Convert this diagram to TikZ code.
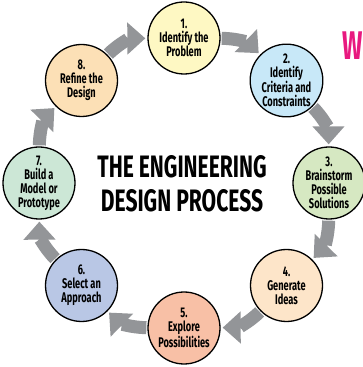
\documentclass[tikz,border=0pt]{standalone}
\usepackage{fontspec}
\setmainfont{Fira Sans}[FakeStretch=0.72]
\newfontfamily\stagefont{Fira Sans}[FakeStretch=0.66]
\newfontfamily\headfont{Fira Sans}[FakeStretch=0.68]
\newfontfamily\wfont{Fira Sans}[FakeStretch=0.6]
\usetikzlibrary{arrows.meta,backgrounds}
\definecolor{arrowgray}{HTML}{939598}
\definecolor{cA}{HTML}{FEF8C3}
\definecolor{cB}{HTML}{C8E8F8}
\definecolor{cC}{HTML}{D6E8C2}
\definecolor{cD}{HTML}{FDE5C9}
\definecolor{cE}{HTML}{F8C0A6}
\definecolor{cF}{HTML}{B9C7E5}
\definecolor{cG}{HTML}{CCE7D6}
\definecolor{cH}{HTML}{FCE0B6}
\definecolor{titlepink}{HTML}{E8197F}
\tikzset{
  stage/.style={circle, draw=black, line width=1.3pt, minimum size=72pt, inner sep=0pt, align=center,
    font=\stagefont\bfseries\fontsize{14}{14}\selectfont},
  flow/.style={draw=arrowgray, line width=13pt, -{Triangle[width=31pt,length=18pt]}, shorten <=1pt, shorten >=2pt},
  heading/.style={align=center, font=\headfont\bfseries\fontsize{31}{34}\selectfont}
}
\begin{document}
\begin{tikzpicture}[x=1pt,y=1pt]
\useasboundingbox (0,0) rectangle (363,367);
\clip (0,0) rectangle (363,367);
\node[stage, fill=cA] (s1) at (184,329) {1.\\Identify the\\Problem};
\node[stage, fill=cB] (s2) at (286.5,286.5) {2.\\Identify\\Criteria and\\Constraints};
\node[stage, fill=cC] (s3) at (329,184) {3.\\Brainstorm\\Possible\\Solutions};
\node[stage, fill=cD] (s4) at (286.5,81.5) {4.\\Generate\\Ideas};
\node[stage, fill=cE] (s5) at (184,39) {5.\\Explore\\Possibilities};
\node[stage, fill=cF] (s6) at (81.5,81.5) {6.\\Select an\\Approach};
\node[stage, fill=cG] (s7) at (39,184) {7.\\Build a\\Model or\\Prototype};
\node[stage, fill=cH] (s8) at (81.5,286.5) {8.\\Refine the\\Design};
\node[heading] (title) at (182,183) {THE ENGINEERING\\DESIGN PROCESS};
\node[anchor=west, text=titlepink, font=\wfont\bfseries\fontsize{40}{40}\selectfont, inner sep=0pt] (w) at (342,321) {W};
\begin{scope}[on background layer]
\draw[flow] (s1) to[bend left=22] (s2);
\draw[flow] (s2) to[bend left=22] (s3);
\draw[flow] (s3) to[bend left=22] (s4);
\draw[flow] (s4) to[bend left=22] (s5);
\draw[flow] (s5) to[bend left=22] (s6);
\draw[flow] (s6) to[bend left=22] (s7);
\draw[flow] (s7) to[bend left=22] (s8);
\draw[flow] (s8) to[bend left=22] (s1);
\end{scope}
\end{tikzpicture}
\end{document}
